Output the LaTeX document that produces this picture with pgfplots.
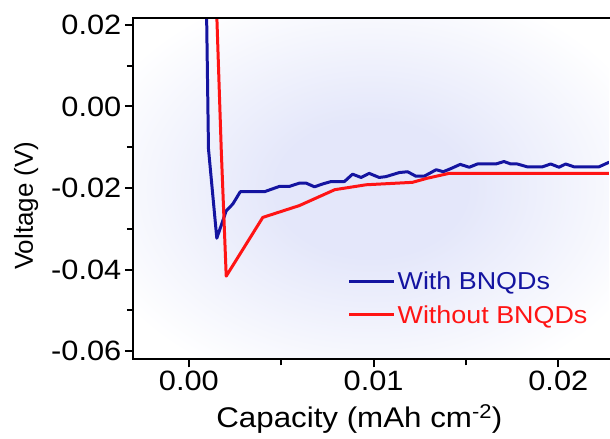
\documentclass[border=0pt]{standalone}
\usepackage{fontspec}
\setmainfont{Liberation Sans}[FakeStretch=1.1]
\newfontfamily\ylabfont{Liberation Sans}
\usepackage{pgfplots}
\pgfplotsset{compat=1.18}
\definecolor{myblue}{RGB}{20,20,160}
\definecolor{myred}{RGB}{255,20,20}
\definecolor{glow}{RGB}{228,231,250}
\pgfdeclareradialshading{glowshade}{\pgfpoint{0bp}{0bp}}{color(0bp)=(glow); color(10bp)=(glow); color(31bp)=(white); color(50bp)=(white)}
\begin{document}
\begin{tikzpicture}
\path (0,0) rectangle (610pt,439pt);
\begin{axis}[
  name=ax,
  at={(133pt,79pt)}, anchor=south west,
  scale only axis, width=477pt, height=342pt,
  xmin=-0.00304, xmax=0.02274,
  ymin=-0.062, ymax=0.0217,
  axis x line*=box, axis y line*=left,
  axis background/.style={shading=glowshade},
  scaled ticks=false,
  xtick={0,0.01,0.02}, xticklabels={0.00,0.01,0.02},
  minor xtick={0.005,0.015},
  ytick={-0.06,-0.04,-0.02,0,0.02},
  yticklabels={-0.06,-0.04,-0.02,0.00,0.02},
  minor ytick={-0.05,-0.03,-0.01,0.01},
  tick align=outside, tick pos=left,
  major tick length=8pt, minor tick length=6pt,
  tick style={draw=black, line width=2pt},
  axis line style={draw=black, line width=2pt},
  ticklabel style={font=\fontsize{28}{30}\selectfont},
  xlabel={Capacity (mAh cm\textsuperscript{-2})},
  ylabel={\ylabfont Voltage (V)},
  xlabel style={at={(axis description cs:0.476,-0.199)}, anchor=base, font=\fontsize{28.5}{31}\selectfont},
  ylabel style={at={(axis description cs:-0.21,0.45)}, anchor=base, font=\fontsize{26}{29}\selectfont},
  legend style={at={(axis description cs:0.451,0.262)}, anchor=north west,
    draw=none, fill=none, inner sep=0pt, row sep=10pt,
    font=\fontsize{24.5}{27}\selectfont,
    nodes={inner sep=2pt}},
  legend cell align=left,
  legend image code/.code={\draw[#1, line width=3pt] (0pt,0pt) -- (45pt,0pt);},
  legend entries={\textcolor{myblue}{With BNQDs}, \textcolor{myred}{Without BNQDs}},
]
\addplot[myblue, line width=3pt, line join=round] coordinates {
(0.00095,0.025) (0.00106,-0.0104) (0.00151,-0.0323) (0.00202,-0.0256)
(0.00238,-0.0239) (0.00278,-0.0209) (0.00409,-0.0209) (0.0049,-0.0196)
(0.00544,-0.0196) (0.00598,-0.0188) (0.00635,-0.0188) (0.0068,-0.0197)
(0.00724,-0.0190) (0.0077,-0.0184) (0.00842,-0.0184) (0.00886,-0.0166)
(0.00932,-0.0174) (0.00976,-0.0164) (0.0103,-0.0174) (0.01067,-0.0172)
(0.01139,-0.0162) (0.01184,-0.0160) (0.01229,-0.0171) (0.01274,-0.0171)
(0.01339,-0.0155) (0.01377,-0.0160) (0.0142,-0.0152) (0.01469,-0.0142)
(0.01518,-0.0149) (0.01562,-0.0141) (0.01662,-0.0141) (0.01706,-0.0135)
(0.01743,-0.0141) (0.01778,-0.0141) (0.01832,-0.0148) (0.01914,-0.0148)
(0.01959,-0.0141) (0.02004,-0.0149) (0.0204,-0.0141) (0.02085,-0.0148)
(0.0222,-0.0148) (0.02274,-0.0137) (0.0235,-0.0130)
};
\addplot[myred, line width=3pt, line join=round] coordinates {
(0.00149,0.025) (0.00175,-0.01045) (0.00202,-0.0416) (0.0040,-0.0272)
(0.00598,-0.0243) (0.0079,-0.0204) (0.00959,-0.0192) (0.0121,-0.0186)
(0.0129,-0.0176) (0.01409,-0.0164) (0.0235,-0.0164)
};
\end{axis}
\draw[black, line width=2.2pt, line cap=rect] (ax.south west) -- (ax.north west) -- (ax.north east);
\draw[black, line width=2.2pt, line cap=rect] (ax.south west) -- (ax.south east);
\end{tikzpicture}
\end{document}
